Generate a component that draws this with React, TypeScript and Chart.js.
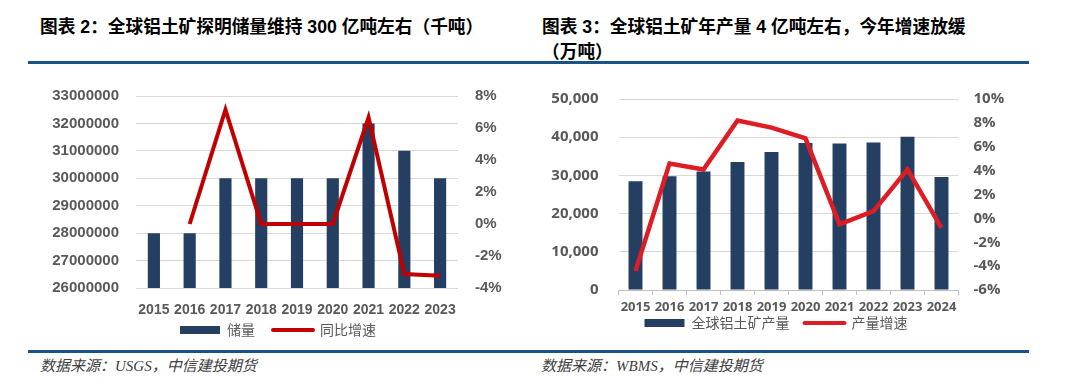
import React, { useEffect, useRef } from 'react';
import { Chart, registerables } from 'chart.js';

Chart.register(...registerables);

// ---------- Data: chart 2 (reserves) ----------
const reserveYears = ['2015', '2016', '2017', '2018', '2019', '2020', '2021', '2022', '2023'];
const reserveValues = [28000000, 28000000, 30000000, 30000000, 30000000, 30000000, 32000000, 31000000, 30000000];
const reserveGrowth = [null, 0, 7.14, 0, 0, 0, 6.67, -3.13, -3.23];
const reserveLabels = ['储量', '同比增速'];

// ---------- Data: chart 3 (production) ----------
const prodYears = ['2015', '2016', '2017', '2018', '2019', '2020', '2021', '2022', '2023', '2024'];
const prodValues = [28500, 29800, 31000, 33500, 36100, 38500, 38350, 38600, 40100, 29600];
const prodGrowth = [-4.4, 4.6, 4.1, 8.2, 7.6, 6.7, -0.5, 0.6, 4.1, -0.8];
const prodLabels = ['全球铝土矿产量', '产量增速'];

const NAVY = '#243F62';
const DARK_RED = '#C00000';
const RED = '#DE1C24';
const TICK = '#595959';
const GRID = '#D9D9D9';

function ChartCanvas({ config, style }: { config: any; style: React.CSSProperties }) {
  const ref = useRef<HTMLCanvasElement | null>(null);
  useEffect(() => {
    if (!ref.current) return;
    const chart = new Chart(ref.current, config);
    return () => chart.destroy();
  }, [config]);
  return (
    <div style={{ position: 'absolute', ...style }}>
      <canvas ref={ref} />
    </div>
  );
}

const legendLabels = (names: string[], barColor: string, lineColor: string, font: any, pad: number) => ({
  usePointStyle: true,
  pointStyleWidth: 40,
  boxHeight: 8,
  padding: pad,
  color: TICK,
  font,
  generateLabels: () => [
    { text: names[0] + '\u3000', fillStyle: barColor, strokeStyle: barColor, lineWidth: 0, pointStyle: 'rect', datasetIndex: 0, fontColor: TICK },
    { text: names[1], fillStyle: lineColor, strokeStyle: lineColor, lineWidth: 4, pointStyle: 'line', lineCap: 'round', datasetIndex: 1, fontColor: TICK },
  ],
});

const leftFont = { family: '"Liberation Sans", Arial, sans-serif', weight: 'bold' as const };
const rightFont = { family: '"Open Sans", sans-serif', weight: 'bold' as const };
const legendFont = { family: '"Noto Sans CJK SC", sans-serif', size: 14 };

const reserveConfig: any = {
  data: {
    labels: reserveYears,
    datasets: [
      {
        type: 'bar',
        label: reserveLabels[0],
        data: reserveValues,
        backgroundColor: NAVY,
        yAxisID: 'y',
        barPercentage: 0.34,
        categoryPercentage: 1,
        order: 2,
      },
      {
        type: 'line',
        label: reserveLabels[1],
        data: reserveGrowth,
        borderColor: DARK_RED,
        backgroundColor: DARK_RED,
        borderWidth: 4,
        pointRadius: 0,
        tension: 0,
        yAxisID: 'y1',
        order: 1,
      },
    ],
  },
  options: {
    animation: false,
    responsive: true,
    maintainAspectRatio: false,
    layout: { padding: { top: 17, left: 0, right: 0, bottom: 0 } },
    plugins: {
      legend: { position: 'bottom', labels: legendLabels(reserveLabels, NAVY, DARK_RED, legendFont, 4) },
      tooltip: { enabled: false },
    },
    scales: {
      x: {
        grid: { display: false, drawTicks: false },
        border: { display: false },
        ticks: { color: TICK, font: { ...leftFont, size: 14 }, padding: 13.5, maxRotation: 0, autoSkip: false },
        afterFit: (s: any) => { s.height = 31; },
      },
      y: {
        position: 'left',
        min: 26000000,
        max: 33000000,
        grid: { color: GRID, drawTicks: false, lineWidth: 1 },
        border: { display: false },
        ticks: { stepSize: 1000000, color: TICK, font: { ...leftFont, size: 15 }, padding: 17, callback: (v: number) => String(v) },
        afterFit: (s: any) => { s.width = 123; },
      },
      y1: {
        position: 'right',
        min: -4,
        max: 8,
        grid: { display: false, drawTicks: false },
        border: { display: false },
        ticks: { stepSize: 2, color: TICK, font: { ...leftFont, size: 15 }, padding: 17, callback: (v: number) => v + '%' },
        afterFit: (s: any) => { s.width = 85; },
      },
    },
  },
};

const prodConfig: any = {
  data: {
    labels: prodYears,
    datasets: [
      {
        type: 'bar',
        label: prodLabels[0],
        data: prodValues,
        backgroundColor: NAVY,
        yAxisID: 'y',
        barPercentage: 0.41,
        categoryPercentage: 1,
        order: 2,
      },
      {
        type: 'line',
        label: prodLabels[1],
        data: prodGrowth,
        borderColor: RED,
        backgroundColor: RED,
        borderWidth: 4.5,
        pointRadius: 0,
        tension: 0,
        yAxisID: 'y1',
        order: 1,
      },
    ],
  },
  options: {
    animation: false,
    responsive: true,
    maintainAspectRatio: false,
    layout: { padding: { top: 17, left: 0, right: 0, bottom: 0 } },
    plugins: {
      legend: { position: 'bottom', labels: legendLabels(prodLabels, NAVY, RED, legendFont, 1) },
      tooltip: { enabled: false },
    },
    scales: {
      x: {
        grid: { display: true, drawOnChartArea: false, drawTicks: true, tickLength: 5, color: '#BFBFBF', offset: true },
        border: { display: true, color: '#BFBFBF' },
        ticks: { color: TICK, font: { ...rightFont, size: 13 }, padding: 4.5, maxRotation: 0, autoSkip: false },
        afterFit: (s: any) => { s.height = 25; },
      },
      y: {
        position: 'left',
        min: 0,
        max: 50000,
        grid: { color: GRID, drawTicks: false, lineWidth: 1 },
        border: { display: false },
        ticks: {
          stepSize: 10000,
          color: TICK,
          font: { ...rightFont, size: 15 },
          padding: 20,
          callback: (v: number) => v.toLocaleString('en-US'),
        },
        afterFit: (s: any) => { s.width = 81.5; },
      },
      y1: {
        position: 'right',
        min: -6,
        max: 10,
        grid: { display: false, drawTicks: false },
        border: { display: false },
        ticks: { stepSize: 2, color: TICK, font: { ...rightFont, size: 15 }, padding: 15, callback: (v: number) => v + '%' },
        afterFit: (s: any) => { s.width = 56.5; },
      },
    },
  },
};

const titleStyle: React.CSSProperties = {
  position: 'absolute',
  top: 15,
  fontFamily: '"Liberation Sans", "Noto Sans CJK SC", sans-serif',
  fontWeight: 'bold',
  fontSize: 17.7,
  lineHeight: '25px',
  color: '#000',
  whiteSpace: 'nowrap',
};

const noteStyle: React.CSSProperties = {
  position: 'absolute',
  top: 356,
  fontFamily: '"Liberation Serif", "Noto Sans CJK SC", serif',
  fontStyle: 'italic',
  fontSize: 15,
  lineHeight: '20px',
  color: '#404040',
  whiteSpace: 'nowrap',
};

const ruleStyle: React.CSSProperties = {
  position: 'absolute',
  left: 28,
  width: 1001,
  height: 3,
  background: '#1A5287',
};

export default function App() {
  return (
    <div style={{ position: 'absolute', left: 0, top: 0, width: 1080, height: 383, background: '#fff', overflow: 'hidden' }}>
      <div style={{ ...titleStyle, left: 40 }}>图表 2：全球铝土矿探明储量维持 300 亿吨左右（千吨）</div>
      <div style={{ ...titleStyle, left: 542 }}>
        图表 3：全球铝土矿年产量 4 亿吨左右，今年增速放缓
        <br />
        （万吨）
      </div>
      <div style={{ ...ruleStyle, top: 61 }} />
      <ChartCanvas config={reserveConfig} style={{ left: 13, top: 70, width: 530, height: 277 }} />
      <ChartCanvas config={prodConfig} style={{ left: 536.5, top: 70, width: 478, height: 270 }} />
      <div style={{ ...ruleStyle, top: 350 }} />
      <div style={{ ...noteStyle, left: 40 }}>数据来源：USGS，中信建投期货</div>
      <div style={{ ...noteStyle, left: 541 }}>数据来源：WBMS，中信建投期货</div>
    </div>
  );
}
